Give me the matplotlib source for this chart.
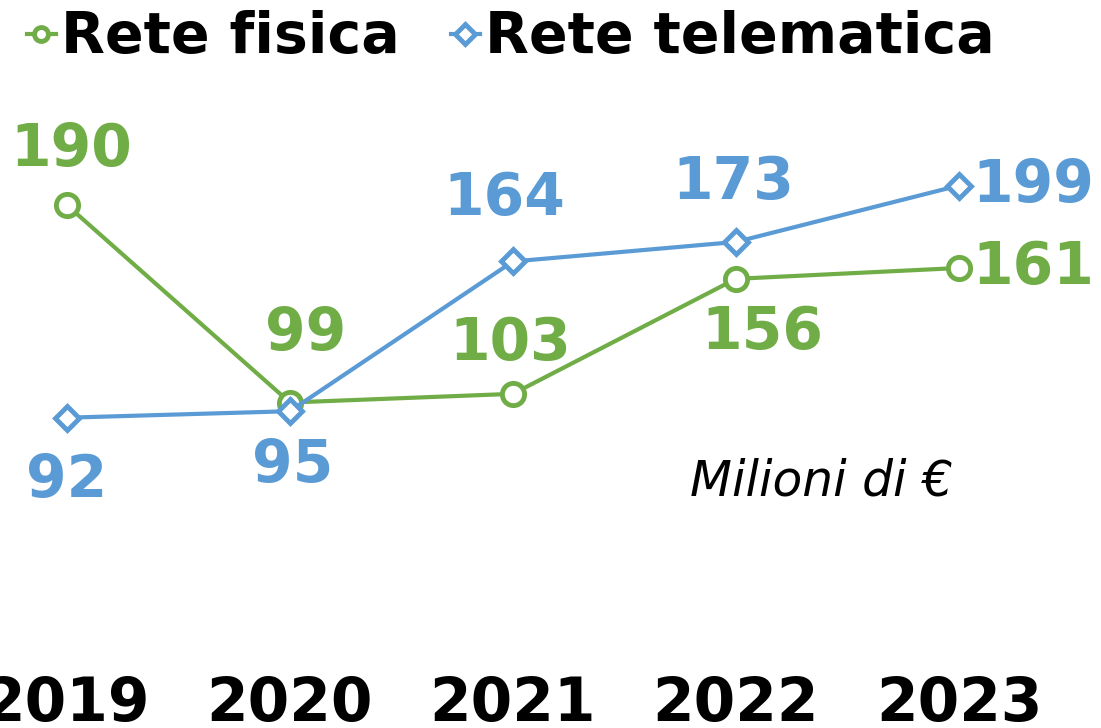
import matplotlib.pyplot as plt

years = [2019, 2020, 2021, 2022, 2023]
rete_fisica = [190, 99, 103, 156, 161]
rete_telematica = [92, 95, 164, 173, 199]

# label offsets in points (dx, dy); None = label to the right of the point
off_fisica = [(3, 40), (11, 50), (-2, 36), (19, -39), (None, 0)]
off_telem = [(0, -45), (2, -39), (-6, 45), (-2, 43), (None, 0)]

green = '#70AD47'
blue = '#5B9BD5'
font = 'DejaVu Sans'

fig = plt.figure(figsize=(11.01, 7.28), dpi=100)
ax = fig.add_axes([0, 0, 1, 1])
ax.set_xlim(2018.70, 2023.637)
ax.set_ylim(-51, 284.5)
ax.axis('off')

ax.plot(years, rete_fisica, color=green, lw=3, marker='o', ms=16,
        mfc='white', mec=green, mew=3.5, label='Rete fisica', zorder=3)
ax.plot(years, rete_telematica, color=blue, lw=3, marker='D', ms=12,
        mfc='white', mec=blue, mew=3.5, label='Rete telematica', zorder=4)

def put_labels(vals, offs, col):
    for x, v, (dx, dy) in zip(years, vals, offs):
        if dx is None:
            ax.annotate(str(v), (x, v), xytext=(10, dy), textcoords='offset points',
                        ha='left', va='center', fontsize=42, fontweight='bold',
                        color=col, family=font)
        else:
            ax.annotate(str(v), (x, v), xytext=(dx, dy), textcoords='offset points',
                        ha='center', va='center', fontsize=42, fontweight='bold',
                        color=col, family=font)

put_labels(rete_fisica, off_fisica, green)
put_labels(rete_telematica, off_telem, blue)

for x in years:
    ax.text(x, 0.032, str(x), transform=ax.get_xaxis_transform(), ha='center',
            va='center', fontsize=43, fontweight='bold', color='black', family=font)

fig.text(690 / 1101, 1 - 482 / 728, 'Milioni di €', ha='left', va='center',
         fontsize=35, style='italic', color='black', family=font)

leg = ax.legend(loc='upper left', bbox_to_anchor=(-0.022, 1.056), ncol=2, frameon=False,
                handlelength=0.5, handletextpad=0.1, columnspacing=0.9,
                prop={'family': font, 'weight': 'bold', 'size': 41})
for h in leg.legend_handles:
    h.set_markersize(10)
    h.set_linewidth(3)

fig.savefig('out.png', dpi=100)
